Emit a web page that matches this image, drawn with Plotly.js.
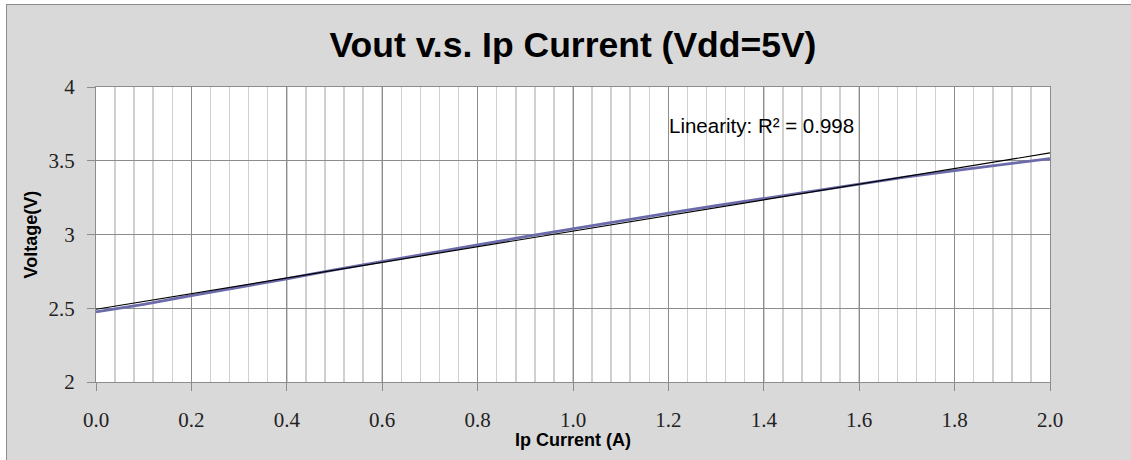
<!DOCTYPE html>
<html>
<head>
<meta charset="utf-8">
<script src="https://cdn.plot.ly/plotly-3.0.1.min.js"></script>
<style>
  html, body { margin: 0; padding: 0; background: #ffffff; width: 1131px; height: 460px; overflow: hidden; }
  #frame { position: absolute; left: 6px; top: 4px; width: 1125px; height: 456px;
           border-left: 1px solid #8c8c8c; border-top: 1px solid #8c8c8c; background: #d9d9d9; }
  #chart { width: 1124px; height: 455px; }
</style>
</head>
<body>
<div id="frame"><div id="chart"></div></div>
<script>
// Measured output (blue line)
const currentA = [0.0, 0.1, 0.2, 0.3, 0.4, 0.5, 0.6, 0.7, 0.8, 0.9, 1.0,
                  1.1, 1.2, 1.3, 1.4, 1.5, 1.6, 1.7, 1.8, 1.9, 2.0];
const voutV = [2.475, 2.527, 2.585, 2.640, 2.700, 2.760, 2.818, 2.875, 2.930, 2.985, 3.040,
               3.092, 3.145, 3.195, 3.245, 3.295, 3.345, 3.390, 3.433, 3.475, 3.515];
// Linear trendline (black) end points as drawn
const trendX = [0.0, 2.0];
const trendY = [2.493, 3.553];

const titleText = "Vout v.s. Ip Current (Vdd=5V)";
const xTitle = "Ip Current (A)";
const yTitle = "Voltage(V)";
const noteText = "Linearity: R\u00b2 = 0.998";
const xTickVals = [0.0, 0.2, 0.4, 0.6, 0.8, 1.0, 1.2, 1.4, 1.6, 1.8, 2.0];
const xTickText = ["0.0", "0.2", "0.4", "0.6", "0.8", "1.0", "1.2", "1.4", "1.6", "1.8", "2.0"];
const yTickVals = [2, 2.5, 3, 3.5, 4];
const yTickText = ["2", "2.5", "3", "3.5", "4"];

const traces = [
  { x: currentA, y: voutV, type: "scatter", mode: "lines",
    line: { color: "#6b6bab", width: 2.8 }, hoverinfo: "x+y", showlegend: false },
  { x: trendX, y: trendY, type: "scatter", mode: "lines",
    line: { color: "#000000", width: 1.2 }, hoverinfo: "skip", showlegend: false }
];

const tickFont = { family: "Liberation Serif, Times New Roman, serif", size: 21, color: "#222222" };

const layout = {
  width: 1124, height: 455,
  margin: { l: 89, r: 81, t: 82, b: 78 },
  paper_bgcolor: "#d9d9d9",
  plot_bgcolor: "#ffffff",
  title: { text: "<b>" + titleText + "</b>", x: 0.5, xref: "paper", xanchor: "center",
           y: 0.912, yref: "container", yanchor: "middle",
           font: { family: "Liberation Sans, Arial, sans-serif", size: 35.5, color: "#000000" } },
  xaxis: {
    range: [0, 2.0], tickvals: xTickVals, ticktext: xTickText,
    ticks: "outside", ticklen: 8, tickcolor: "#8c8c8c", tickwidth: 1,
    showgrid: true, gridcolor: "#8c8c8c", gridwidth: 1,
    minor: { dtick: 0.04, showgrid: true, gridcolor: "#d0d0d0", gridwidth: 1.5, ticks: "" },
    showline: true, linecolor: "#8c8c8c", linewidth: 1, mirror: true,
    zeroline: false, tickfont: tickFont, ticklabelstandoff: 11
  },
  yaxis: {
    range: [2, 4], tickvals: yTickVals, ticktext: yTickText,
    ticks: "outside", ticklen: 8, tickcolor: "#8c8c8c", tickwidth: 1,
    showgrid: true, gridcolor: "#8c8c8c", gridwidth: 1,
    showline: true, linecolor: "#8c8c8c", linewidth: 1, mirror: true,
    zeroline: false, tickfont: tickFont, ticklabelstandoff: 8
  },
  annotations: [
    { text: "<b>" + xTitle + "</b>", xref: "paper", yref: "paper", x: 0.5, y: 0,
      xanchor: "center", yanchor: "middle", yshift: -58, showarrow: false,
      font: { family: "Liberation Sans, Arial, sans-serif", size: 18, color: "#000000" } },
    { text: "<b>" + yTitle + "</b>", xref: "paper", yref: "paper", x: 0, y: 0.5,
      xanchor: "center", yanchor: "middle", xshift: -66, textangle: -90, showarrow: false,
      font: { family: "Liberation Sans, Arial, sans-serif", size: 18, color: "#000000" } },
    { text: noteText, xref: "paper", yref: "paper", x: 0.5987, y: 0.871,
      xanchor: "left", yanchor: "middle", showarrow: false,
      font: { family: "Liberation Sans, Arial, sans-serif", size: 20.5, color: "#000000" } }
  ]
};

Plotly.newPlot("chart", traces, layout, { displayModeBar: false, staticPlot: true });
</script>
</body>
</html>
